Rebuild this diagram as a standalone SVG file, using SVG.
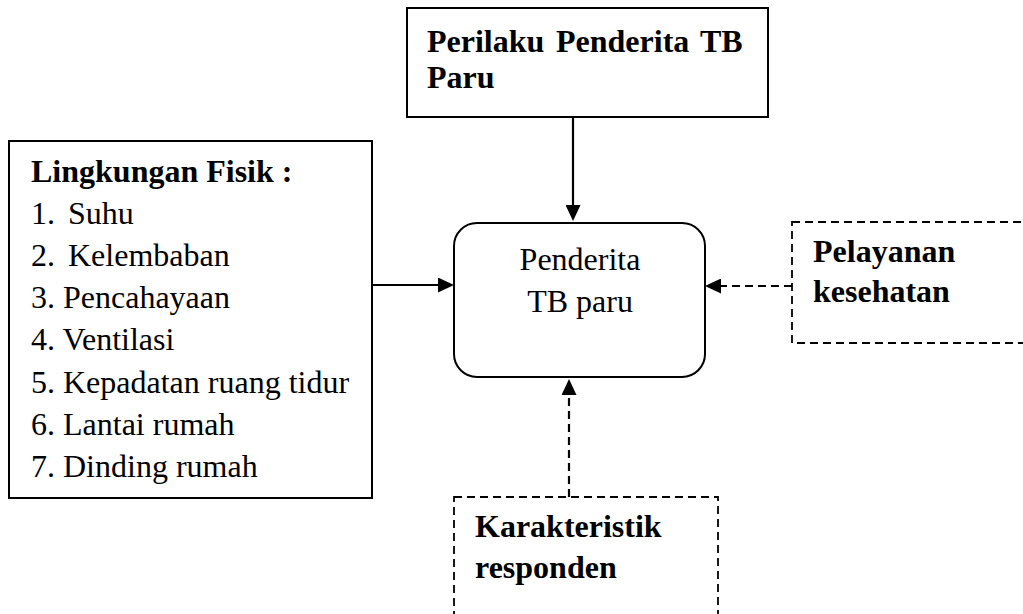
<svg xmlns="http://www.w3.org/2000/svg" width="1023" height="614" viewBox="0 0 1023 614">
<style>
text{font-family:"Liberation Serif","Times New Roman",serif;font-size:32px;fill:#000}
.b{font-weight:bold}
.box{fill:#fff;stroke:#000;stroke-width:2}
.dbox{fill:none;stroke:#000;stroke-width:1.8;stroke-dasharray:8 5}
.con{fill:none;stroke:#000;stroke-width:2.2}
.dash{stroke-dasharray:8 5}
</style>
<defs>
<marker id="ah" markerUnits="userSpaceOnUse" markerWidth="16" markerHeight="15" refX="0" refY="7.5" orient="auto" viewBox="0 0 16 15">
<path d="M0,0 L16,7.5 L0,15 z" fill="#000"/>
</marker>
</defs>
<rect width="1023" height="614" fill="#fff"/>
<g id="perilaku">
<rect class="box" x="407" y="8" width="361" height="109"/>
<text class="b" y="52"><tspan x="427">Perilaku</tspan><tspan x="556">Penderita</tspan><tspan x="700">TB</tspan></text>
<text class="b" x="427" y="88">Paru</text>
</g>
<g id="lingkungan">
<rect class="box" x="9" y="141" width="363" height="357"/>
<text class="b" x="31" y="182">Lingkungan Fisik :</text>
<text x="31" y="224">1.</text><text x="68" y="224">Suhu</text>
<text x="31" y="266">2.</text><text x="68" y="266">Kelembaban</text>
<text x="31" y="308">3. Pencahayaan</text>
<text x="31" y="350">4. Ventilasi</text>
<text x="31" y="393">5. Kepadatan ruang tidur</text>
<text x="31" y="435">6. Lantai rumah</text>
<text x="31" y="477">7. Dinding rumah</text>
</g>
<g id="penderita">
<rect class="box" x="454" y="223" width="251" height="154" rx="23" ry="23"/>
<text x="580" y="270" text-anchor="middle">Penderita</text>
<text x="580" y="312" text-anchor="middle">TB paru</text>
</g>
<g id="pelayanan">
<rect class="dbox" x="792" y="222" width="245" height="121"/>
<text class="b" x="813" y="262">Pelayanan</text>
<text class="b" x="813" y="302">kesehatan</text>
</g>
<g id="karakteristik">
<rect class="dbox" x="454" y="497" width="264" height="135"/>
<text class="b" x="475" y="537">Karakteristik</text>
<text class="b" x="475" y="578">responden</text>
</g>
<g id="connectors">
<line class="con" x1="573" y1="117" x2="573" y2="205" marker-end="url(#ah)"/>
<line class="con" x1="372" y1="285" x2="438" y2="285" marker-end="url(#ah)"/>
<line class="con dash" x1="792" y1="286" x2="721" y2="286" marker-end="url(#ah)"/>
<line class="con dash" x1="569" y1="497" x2="569" y2="395" marker-end="url(#ah)"/>
</g>
</svg>
